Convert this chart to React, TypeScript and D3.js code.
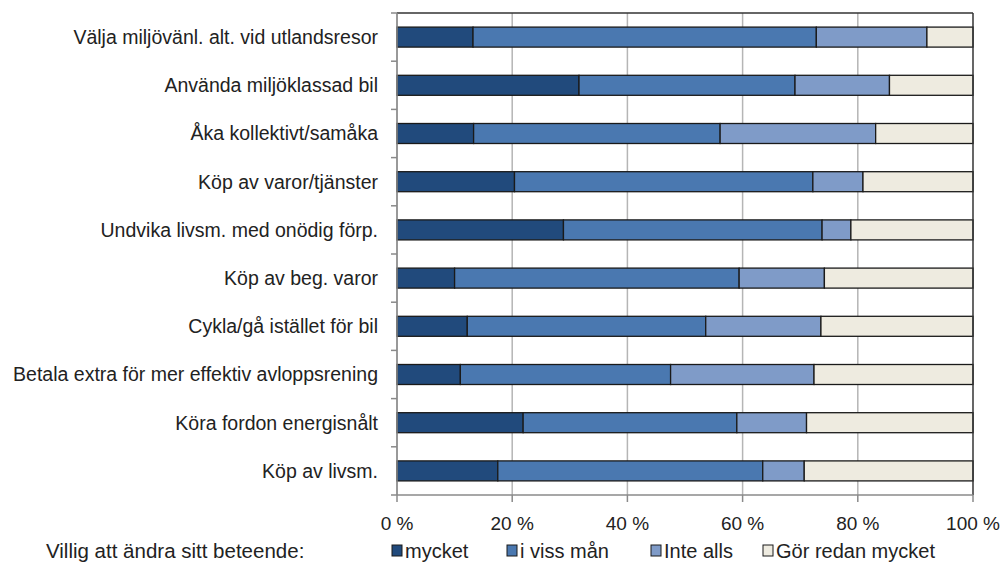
import React from "react";
import * as d3 from "d3";

const categories = [
  "Välja miljövänl. alt. vid utlandsresor",
  "Använda miljöklassad bil",
  "Åka kollektivt/samåka",
  "Köp av varor/tjänster",
  "Undvika livsm. med onödig förp.",
  "Köp av beg. varor",
  "Cykla/gå istället för bil",
  "Betala extra för mer effektiv avloppsrening",
  "Köra fordon energisnålt",
  "Köp av livsm.",
];
const mycket = [13.2, 31.6, 13.3, 20.4, 28.9, 10.0, 12.2, 11.0, 21.9, 17.5];
const issMan = [59.6, 37.5, 42.8, 51.8, 44.9, 49.4, 41.4, 36.5, 37.1, 46.0];
const inteAlls = [19.2, 16.4, 27.0, 8.7, 5.0, 14.8, 20.0, 24.9, 12.1, 7.2];
const gorRedan = [8.0, 14.5, 16.9, 19.1, 21.2, 25.8, 26.4, 27.6, 28.9, 29.3];
const seriesNames = ["mycket", "i viss mån", "Inte alls", "Gör redan mycket"];
const seriesColors = ["#214a7c", "#4a78b0", "#7f9bc8", "#eeebe0"];
const xTicks = [0, 20, 40, 60, 80, 100];
const legendTitle = "Villig att ändra sitt beteende:";

export default function App() {
  const W = 1001, H = 562;
  const left = 397, right = 973, top = 13, bottom = 495;
  const x = d3.scaleLinear().domain([0, 100]).range([left, right]);
  const y = d3.scaleBand().domain(categories).range([top, bottom]).paddingInner(0.585).paddingOuter(0.2925);
  const band = (bottom - top) / categories.length;
  const all = [mycket, issMan, inteAlls, gorRedan];
  const font = "Liberation Sans, Arial, sans-serif";
  const legendX = [392, 507, 651, 763];

  return (
    <svg width={W} height={H} style={{ position: "absolute", left: 0, top: 0, background: "#fff" }}>
      {xTicks.map((t) => (
        <line key={"g" + t} x1={x(t)} x2={x(t)} y1={top} y2={bottom} stroke="#b5b5b5" strokeWidth={1.5} />
      ))}
      {categories.map((c, i) => {
        let acc = 0;
        return all.map((s, k) => {
          const total = mycket[i] + issMan[i] + inteAlls[i] + gorRedan[i];
          const v = (s[i] / total) * 100;
          const x0 = x(acc);
          acc += v;
          const x1 = x(acc);
          return (
            <rect key={c + k} x={x0} y={y(c)!} width={x1 - x0} height={y.bandwidth()}
              fill={seriesColors[k]} stroke="#1a1a1a" strokeWidth={1.3} />
          );
        });
      })}
      <line x1={left} x2={right} y1={top} y2={top} stroke="#333" strokeWidth={1.3} />
      <line x1={right} x2={right} y1={top} y2={bottom} stroke="#333" strokeWidth={1.3} />
      <line x1={left} x2={left} y1={top} y2={bottom} stroke="#8a8a8a" strokeWidth={1.5} />
      <line x1={left} x2={right} y1={bottom} y2={bottom} stroke="#8a8a8a" strokeWidth={1.5} />
      {d3.range(categories.length + 1).map((i) => (
        <line key={"yt" + i} x1={left - 6} x2={left} y1={top + i * band} y2={top + i * band} stroke="#8a8a8a" strokeWidth={1.5} />
      ))}
      {xTicks.map((t) => (
        <line key={"xt" + t} x1={x(t)} x2={x(t)} y1={bottom} y2={bottom + 7} stroke="#8a8a8a" strokeWidth={1.5} />
      ))}
      {xTicks.map((t) => (
        <text key={"xl" + t} x={x(t)} y={530} textAnchor="middle" fontFamily={font} fontSize={19} fill="#222">
          {t + " %"}
        </text>
      ))}
      {categories.map((c) => (
        <text key={"yl" + c} x={378} y={y(c)! + y.bandwidth() / 2} dy="0.35em" textAnchor="end"
          fontFamily={font} fontSize={19.5} fill="#222">
          {c}
        </text>
      ))}
      <text x={46} y={558} fontFamily={font} fontSize={20.5} fill="#222">{legendTitle}</text>
      {seriesNames.map((n, k) => (
        <g key={"lg" + n}>
          <rect x={legendX[k]} y={545} width={10} height={11} fill={seriesColors[k]} stroke="#1a1a1a" strokeWidth={1} />
          <text x={legendX[k] + 13} y={558} fontFamily={font} fontSize={20} fill="#222">{n}</text>
        </g>
      ))}
    </svg>
  );
}
